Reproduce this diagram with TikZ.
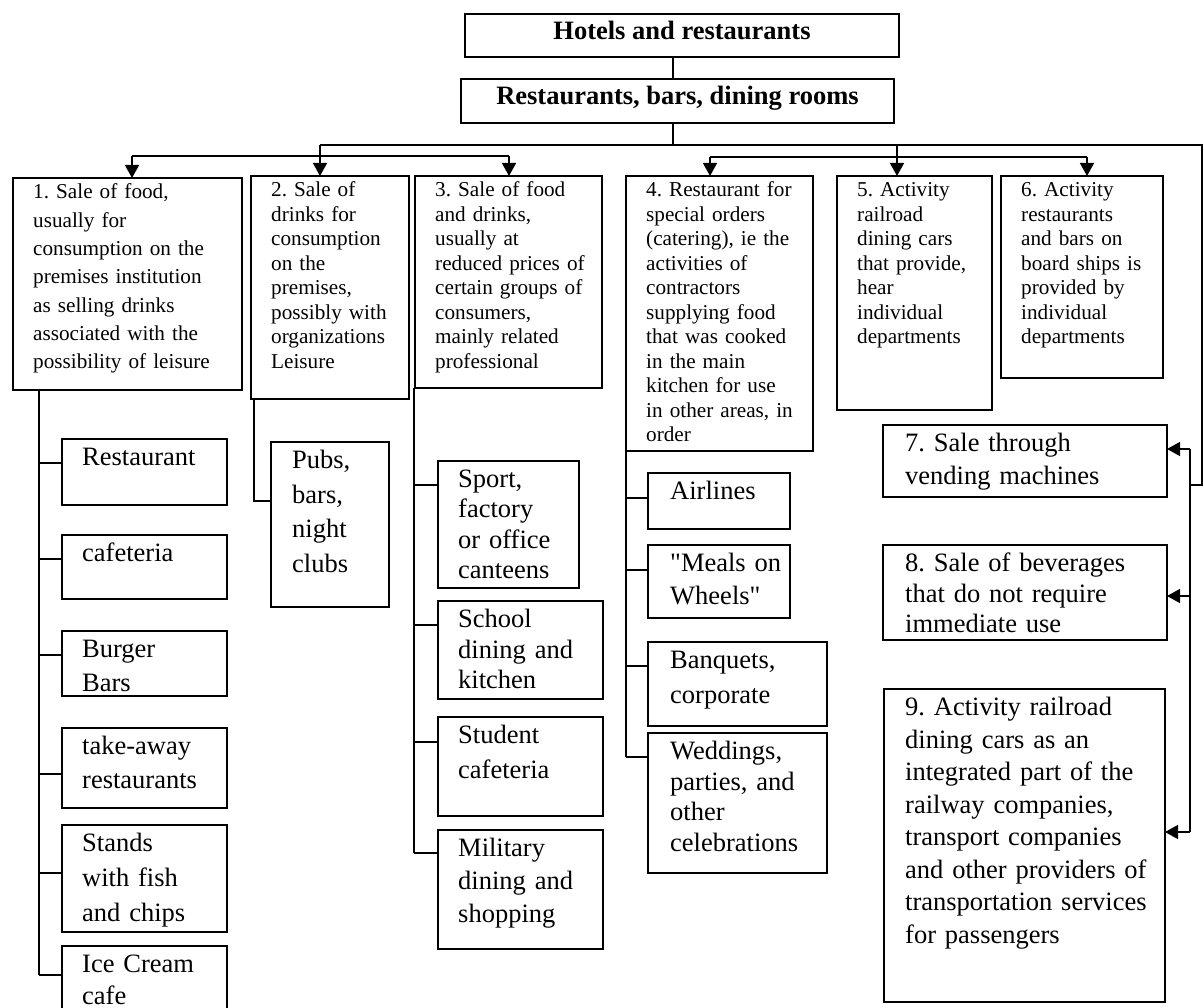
\documentclass[tikz,border=0pt]{standalone}
\usepackage{fontspec}
\setmainfont{Liberation Serif}
\usetikzlibrary{arrows.meta}
\frenchspacing
\begin{document}
\begin{tikzpicture}[x=1pt,y=-1pt,
  bx/.style={draw, line width=1.5pt, inner sep=0pt, outer sep=0pt, anchor=north west},
  ln/.style={line width=1.5pt},
  arr/.style={line width=1.5pt, -{Triangle[width=14pt,length=13pt]}},
  ttl/.style={font={\fontsize{26.5}{30}\selectfont\bfseries}, anchor=base, inner sep=0pt},
  tS/.style={font={\fontsize{21.2}{24.5}\selectfont\frenchspacing}, anchor=base west, inner sep=0pt, text width=300pt, align=left},
  tS1/.style={font={\fontsize{21.2}{28.3}\selectfont\frenchspacing}, anchor=base west, inner sep=0pt, text width=300pt, align=left},
  tL/.style={font={\fontsize{26.5}{#1}\selectfont\frenchspacing}, anchor=base west, inner sep=0pt, text width=300pt, align=left},
  tL/.default=30.5]
\useasboundingbox (0,0) rectangle (1203,1008);
\clip (0,0) rectangle (1203,1008);
% ---------- boxes ----------
\node[bx, minimum width=434pt, minimum height=43pt] (top) at (465,14) {};
\node[bx, minimum width=433pt, minimum height=44pt] (sec) at (461,79) {};
\node[bx, minimum width=229pt, minimum height=212pt] (b1) at (13,178) {};
\node[bx, minimum width=158pt, minimum height=223pt] (b2) at (251,176) {};
\node[bx, minimum width=187pt, minimum height=212pt] (b3) at (415,176) {};
\node[bx, minimum width=187pt, minimum height=275pt] (b4) at (626,176) {};
\node[bx, minimum width=155pt, minimum height=234pt] (b5) at (837,176) {};
\node[bx, minimum width=162pt, minimum height=202pt] (b6) at (1001,176) {};
\node[bx, minimum width=284pt, minimum height=72pt] (b7) at (883,425) {};
\node[bx, minimum width=284pt, minimum height=95pt] (b8) at (883,545) {};
\node[bx, minimum width=281pt, minimum height=313pt] (b9) at (884,689) {};
\node[bx, minimum width=165pt, minimum height=66pt] (c1) at (62,439) {};
\node[bx, minimum width=165pt, minimum height=64pt] (c2) at (62,535) {};
\node[bx, minimum width=165pt, minimum height=65pt] (c3) at (62,631) {};
\node[bx, minimum width=165pt, minimum height=80pt] (c4) at (62,728) {};
\node[bx, minimum width=165pt, minimum height=107pt] (c5) at (62,825) {};
\node[bx, minimum width=165pt, minimum height=80pt] (c6) at (62,946) {};
\node[bx, minimum width=118pt, minimum height=165pt] (p1) at (271,442) {};
\node[bx, minimum width=141pt, minimum height=127pt] (s1) at (438,461) {};
\node[bx, minimum width=165pt, minimum height=98pt] (s2) at (438,601) {};
\node[bx, minimum width=165pt, minimum height=99pt] (s3) at (438,717) {};
\node[bx, minimum width=165pt, minimum height=119pt] (s4) at (438,830) {};
\node[bx, minimum width=142pt, minimum height=56pt] (r1) at (648,473) {};
\node[bx, minimum width=142pt, minimum height=73pt] (r2) at (648,545) {};
\node[bx, minimum width=179pt, minimum height=84pt] (r3) at (648,642) {};
\node[bx, minimum width=179pt, minimum height=140pt] (r4) at (648,733) {};
% ---------- texts ----------
\node[ttl] (topt) at (682,40) {Hotels and restaurants};
\node[ttl] (sect) at (677.5,105) {Restaurants, bars, dining rooms};
\node[tS1] (b1t) at (33,199) {1. Sale of food,\\usually for\\consumption on the\\premises institution\\as selling drinks\\associated with the\\possibility of leisure};
\node[tS] (b2t) at (271,197) {2. Sale of\\drinks for\\consumption\\on the\\premises,\\possibly with\\organizations\\Leisure};
\node[tS] (b3t) at (435,197) {3. Sale of food\\and drinks,\\usually at\\reduced prices of\\certain groups of\\consumers,\\mainly related\\professional};
\node[tS] (b4t) at (646,197) {4. Restaurant for\\special orders\\(catering), ie the\\activities of\\contractors\\supplying food\\that was cooked\\in the main\\kitchen for use\\in other areas, in\\order};
\node[tS] (b5t) at (857,197) {5. Activity\\railroad\\dining cars\\that provide,\\hear\\individual\\departments};
\node[tS] (b6t) at (1021,197) {6. Activity\\restaurants\\and bars on\\board ships is\\provided by\\individual\\departments};
\node[tL=33] (b7t) at (905,451.5) {7. Sale through\\vending machines};
\node[tL=30.5] (b8t) at (905,571.5) {8. Sale of beverages\\that do not require\\immediate use};
\node[tL=32.5] (b9t) at (905,715.5) {9. Activity railroad\\dining cars as an\\integrated part of the\\railway companies,\\transport companies\\and other providers of\\transportation services\\for passengers};
\node[tL] (c1t) at (82,465.5) {Restaurant};
\node[tL] (c2t) at (82,561.5) {cafeteria};
\node[tL=34] (c3t) at (82,657.5) {Burger\\Bars};
\node[tL=34] (c4t) at (82,754.5) {take-away\\restaurants};
\node[tL=35] (c5t) at (82,851.5) {Stands\\with fish\\and chips};
\node[tL=32] (c6t) at (82,972) {Ice Cream\\cafe};
\node[tL=34.7] (p1t) at (292,468.5) {Pubs,\\bars,\\night\\clubs};
\node[tL=30.4] (s1t) at (458,487.5) {Sport,\\factory\\or office\\canteens};
\node[tL=30.7] (s2t) at (458,627.5) {School\\dining and\\kitchen};
\node[tL=35] (s3t) at (458,743.5) {Student\\cafeteria};
\node[tL=33] (s4t) at (458,856.5) {Military\\dining and\\shopping};
\node[tL] (r1t) at (670,499.5) {Airlines};
\node[tL=33] (r2t) at (670,571.5) {\textquotedbl Meals on\\Wheels\textquotedbl};
\node[tL=35] (r3t) at (670,668.5) {Banquets,\\corporate};
\node[tL=30.6] (r4t) at (670,759.5) {Weddings,\\parties, and\\other\\celebrations};
% ---------- top connectors ----------
\coordinate (j) at (673,145);
\draw[ln] (top.south -| j) -- (sec.north -| j);
\draw[ln] (sec.south -| j) -- (j);
\coordinate (bL) at (320,145);
\coordinate (bR) at (1202,145);
\coordinate (fR) at (1202,485);
\coordinate (vb) at (1190,485);
\draw[ln] (bL) -- (bR) -- (fR) -- (vb);
\draw[arr] (bL) -- (bL |- b2.north);
\coordinate (h1L) at (132,156);
\coordinate (h1R) at (509,156);
\draw[ln] (h1L) -- (h1R);
\draw[arr] (h1L) -- (h1L |- b1.north);
\draw[arr] (h1R) -- (h1R |- b3.north);
\coordinate (d5) at (897,145);
\draw[arr] (d5) -- (d5 |- b5.north);
\coordinate (h2L) at (710,157);
\coordinate (h2R) at (1087,157);
\draw[ln] (h2L) -- (h2R);
\draw[arr] (h2L) -- (h2L |- b4.north);
\draw[arr] (h2R) -- (h2R |- b6.north);
% ---------- right column ----------
\coordinate (v7) at (1190,449);
\coordinate (v8) at (1190,596);
\coordinate (v9) at (1190,832);
\draw[ln] (v7) -- (v9);
\draw[arr] (v7) -- (v7 -| b7.east);
\draw[arr] (v8) -- (v8 -| b8.east);
\draw[arr] (v9) -- (v9 -| b9.east);
% ---------- column 1 ----------
\coordinate (k1) at (39,463);
\coordinate (k2) at (39,559);
\coordinate (k3) at (39,655);
\coordinate (k4) at (39,774);
\coordinate (k5) at (39,873);
\coordinate (k6) at (39,975);
\draw[ln] (b1.south -| k6) -- (k6);
\draw[ln] (k1) -- (k1 -| c1.west);
\draw[ln] (k2) -- (k2 -| c2.west);
\draw[ln] (k3) -- (k3 -| c3.west);
\draw[ln] (k4) -- (k4 -| c4.west);
\draw[ln] (k5) -- (k5 -| c5.west);
\draw[ln] (k6) -- (k6 -| c6.west);
% ---------- column 2 ----------
\coordinate (q) at (254,501);
\draw[ln] (b2.south -| q) -- (q) -- (q -| p1.west);
% ---------- column 3 ----------
\coordinate (m1) at (414,485);
\coordinate (m2) at (414,625);
\coordinate (m3) at (414,742);
\coordinate (m4) at (414,853);
\draw[ln] (b3.south -| m4) -- (m4);
\draw[ln] (m1) -- (m1 -| s1.west);
\draw[ln] (m2) -- (m2 -| s2.west);
\draw[ln] (m3) -- (m3 -| s3.west);
\draw[ln] (m4) -- (m4 -| s4.west);
% ---------- column 4 ----------
\coordinate (n1) at (626,498);
\coordinate (n2) at (626,570);
\coordinate (n3) at (626,666);
\coordinate (n4) at (626,757);
\draw[ln] (b4.south -| n4) -- (n4);
\draw[ln] (n1) -- (n1 -| r1.west);
\draw[ln] (n2) -- (n2 -| r2.west);
\draw[ln] (n3) -- (n3 -| r3.west);
\draw[ln] (n4) -- (n4 -| r4.west);
\end{tikzpicture}
\end{document}
